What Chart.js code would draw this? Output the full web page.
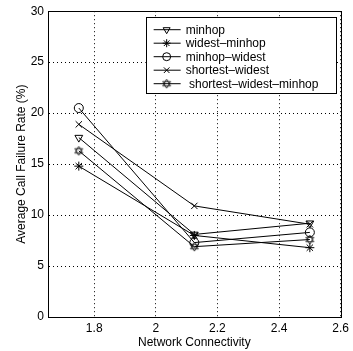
<!DOCTYPE html>
<html lang="en">
<head>
    <meta charset="UTF-8">
    <title>Average Call Failure Rate</title>
    <script src="https://cdn.jsdelivr.net/npm/chart.js"></script>
    <style>
        html, body {
            margin: 0;
            padding: 0;
            background: #fff;
        }
        #wrap {
            width: 353px;
            height: 351px;
        }
    </style>
</head>
<body>
    <div id="wrap"><canvas id="failureChart" width="353" height="351"></canvas></div>
    <script>
        // values
        const connectivity = [1.75, 2.125, 2.5];
        const xTicks = [1.8, 2, 2.2, 2.4, 2.6];
        const yTicks = [0, 5, 10, 15, 20, 25, 30];

        const minhop = [17.6, 8.1, 9.2];
        const widestMinhop = [14.8, 8.0, 6.8];
        const minhopWidest = [20.5, 7.3, 8.3];
        const shortestWidest = [18.9, 10.9, 9.1];
        const shortestWidestMinhop = [16.3, 6.9, 7.6];

        const seriesNames = ['minhop', 'widest\u2013minhop', 'minhop\u2013widest', 'shortest\u2013widest', ' shortest\u2013widest\u2013minhop'];

        const FONT = '"Liberation Sans", Arial, sans-serif';

        // hexagram marker (matlab 'h' style)
        function hexagram() {
            const c = document.createElement('canvas');
            c.width = 11;
            c.height = 11;
            const g = c.getContext('2d');
            g.strokeStyle = '#000';
            g.lineWidth = 0.8;
            const cx = 5.5, cy = 5.5, r = 4.5;
            for (let k = 0; k < 2; k++) {
                g.beginPath();
                for (let i = 0; i < 3; i++) {
                    const a = -Math.PI / 2 + k * Math.PI + i * 2 * Math.PI / 3;
                    const px = cx + r * Math.cos(a), py = cy + r * Math.sin(a);
                    if (i === 0) g.moveTo(px, py); else g.lineTo(px, py);
                }
                g.closePath();
                g.stroke();
            }
            return c;
        }

        function toPoints(values) {
            return values.map((v, i) => ({ x: connectivity[i], y: v }));
        }

        function makeSet(label, values, style, rotation) {
            return {
                label: label,
                data: toPoints(values),
                showLine: true,
                borderColor: '#000',
                borderWidth: 1,
                pointStyle: style,
                pointRotation: rotation || 0,
                pointRadius: 4.5,
                pointBorderWidth: 1,
                pointBorderColor: '#000',
                pointBackgroundColor: 'rgba(0,0,0,0)'
            };
        }

        const datasets = [
            makeSet(seriesNames[0], minhop, 'triangle', 180),
            makeSet(seriesNames[1], widestMinhop, 'star'),
            makeSet(seriesNames[2], minhopWidest, 'circle'),
            makeSet(seriesNames[3], shortestWidest, 'crossRot'),
            makeSet(seriesNames[4], shortestWidestMinhop, hexagram())
        ];

        // box round the plot and the boxed legend in the upper right
        const boxAndLegend = {
            id: 'boxAndLegend',
            afterDatasetsDraw(chart) {
                const ctx = chart.ctx;
                const a = chart.chartArea;
                ctx.save();
                ctx.strokeStyle = '#000';
                ctx.lineWidth = 1;
                ctx.strokeRect(Math.round(a.left) + 0.5, Math.round(a.top) + 0.5,
                    Math.round(a.right - a.left), Math.round(a.bottom - a.top));

                const lx = a.right - 195, ly = a.top + 6, lw = 190, lh = 76;
                ctx.fillStyle = '#fff';
                ctx.fillRect(lx, ly, lw, lh);
                ctx.strokeRect(Math.round(lx) + 0.5, Math.round(ly) + 0.5, lw, lh);

                ctx.font = '12px ' + FONT;
                ctx.textBaseline = 'middle';
                ctx.textAlign = 'left';
                chart.data.datasets.forEach((ds, i) => {
                    const y = ly + 12 + i * 13.5;
                    ctx.beginPath();
                    ctx.moveTo(lx + 8, y + 0.5);
                    ctx.lineTo(lx + 35, y + 0.5);
                    ctx.stroke();
                    ctx.fillStyle = 'rgba(0,0,0,0)';
                    Chart.helpers.drawPoint(ctx, {
                        pointStyle: ds.pointStyle,
                        rotation: ds.pointRotation,
                        radius: 4,
                        borderWidth: 1
                    }, lx + 21, y + 0.5);
                    ctx.fillStyle = '#000';
                    ctx.fillText(ds.label, lx + 40, y + 1);
                });
                ctx.restore();
            }
        };

        new Chart(document.getElementById('failureChart'), {
            type: 'scatter',
            data: { datasets: datasets },
            options: {
                responsive: false,
                animation: false,
                devicePixelRatio: 1,
                layout: { padding: { top: 6, right: 5, left: 0, bottom: 0 } },
                plugins: {
                    legend: { display: false },
                    tooltip: { enabled: false }
                },
                scales: {
                    x: {
                        type: 'linear',
                        min: 1.65,
                        max: 2.6,
                        afterBuildTicks: s => { s.ticks = xTicks.map(v => ({ value: v })); },
                        afterFit: s => { s.height = 34; },
                        grid: { color: '#000', lineWidth: 1, drawTicks: false },
                        border: { display: true, color: '#000', dash: [1, 3] },
                        ticks: {
                            color: '#000',
                            padding: 4,
                            maxRotation: 0,
                            font: { family: FONT, size: 12 },
                            callback: v => String(v)
                        },
                        title: {
                            display: true,
                            text: 'Network Connectivity',
                            color: '#000',
                            font: { family: FONT, size: 12 },
                            padding: { top: 0, bottom: 1 }
                        }
                    },
                    y: {
                        min: 0,
                        max: 30,
                        afterBuildTicks: s => { s.ticks = yTicks.map(v => ({ value: v })); },
                        afterFit: s => { s.width = 48; },
                        grid: { color: '#000', lineWidth: 1, drawTicks: false },
                        border: { display: true, color: '#000', dash: [1, 3] },
                        ticks: {
                            color: '#000',
                            padding: 4,
                            font: { family: FONT, size: 12 }
                        },
                        title: {
                            display: true,
                            text: 'Average Call Failure Rate (%)',
                            color: '#000',
                            font: { family: FONT, size: 12 },
                            padding: { top: 14, bottom: 0 }
                        }
                    }
                }
            },
            plugins: [boxAndLegend]
        });
    </script>
</body>
</html>
